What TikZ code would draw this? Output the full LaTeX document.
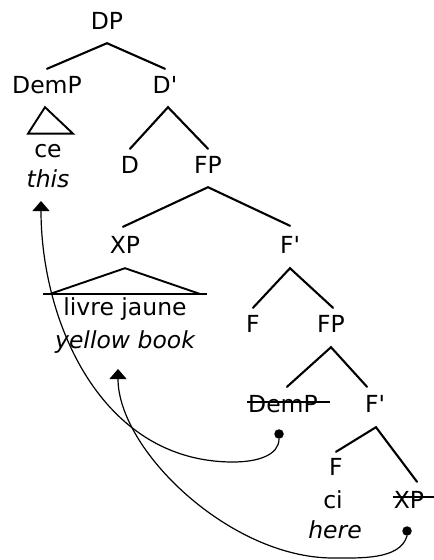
\documentclass[tikz,border=0pt]{standalone}
\usepackage{fontspec}
\setmainfont{DejaVu Sans}
\usetikzlibrary{arrows.meta}
\begin{document}
\begin{tikzpicture}[x=1pt,y=-1pt,
  lab/.style={inner sep=0pt, anchor=base, font=\fontsize{23.5}{28}\selectfont, text height=16pt, text depth=0pt},
  leaf/.style={inner sep=0pt, anchor=base, font=\fontsize{23.5}{28}\selectfont},
  gloss/.style={leaf, font=\fontsize{23.5}{28}\selectfont\itshape},
  branch/.style={line width=2.1pt, line cap=round},
  tri/.style={line width=1.9pt, line join=miter},
  strike/.style={line width=1.3pt},
  move/.style={line width=1.2pt, -{Triangle[width=17pt,length=10pt]}},
  dotn/.style={circle, fill=black, inner sep=0pt, minimum size=9.5pt}]
\useasboundingbox (0,0) rectangle (434,560);
% category nodes
\node[lab] (DP) at (107,29) {DP};
\node[lab] (DemP) at (47,93) {DemP};
\node[lab] (Dbar) at (165,93) {D\textquotesingle};
\node[lab] (D) at (130,173) {D};
\node[lab] (FP1) at (208,173) {FP};
\node[lab] (XP) at (125,253) {XP};
\node[lab] (Fbar1) at (290,253) {F\textquotesingle};
\node[lab] (F1) at (253,332) {F};
\node[lab] (FP2) at (331,332) {FP};
\node[lab] (DemP2) at (283,412) {DemP};
\node[lab] (Fbar2) at (375,412) {F\textquotesingle};
\node[lab] (F2) at (336,475) {F};
\node[lab] (XP2) at (409,508) {XP};
% leaves
\node[leaf] (ce) at (48,157) {ce};
\node[gloss] (this) at (48,187) {this};
\node[leaf] (livre) at (125,315) {livre jaune};
\node[gloss] (yellow) at (125,348) {yellow book};
\node[leaf] (ci) at (333,508) {ci};
\node[gloss] (here) at (335,538) {here};
% dots
\node[dotn] (d1) at (279,434) {};
\node[dotn] (d2) at (407,531) {};
% branches
\draw[branch] ([yshift=8]DemP.north) -- ([yshift=-14]DP.south) -- ([yshift=8]Dbar.north);
\draw[branch] ([yshift=8]D.north) -- ([xshift=3,yshift=-14]Dbar.south) -- ([yshift=8]FP1.north);
\draw[branch] ([xshift=-2,yshift=10]XP.north) -- ([yshift=-14]FP1.south) -- ([yshift=11]Fbar1.north);
\draw[branch] ([yshift=8]F1.north) -- ([yshift=-15]Fbar1.south) -- ([xshift=2,yshift=8]FP2.north);
\draw[branch] ([xshift=4,yshift=9]DemP2.north) -- ([yshift=-15]FP2.south) -- ([xshift=-8,yshift=9]Fbar2.north);
\draw[branch] ([yshift=7]F2.north) -- ([xshift=1,yshift=-15]Fbar2.south) -- ([xshift=8,yshift=10]XP2.north);
% triangles
\draw[tri] ([xshift=-2,yshift=-14]DemP.south) -- ([xshift=-20,yshift=10]ce.north) -- ([xshift=25,yshift=10]ce.north) -- cycle;
\draw[tri] ([yshift=-15]XP.south) -- ([xshift=-75,yshift=3]livre.north) -- ([xshift=75,yshift=3]livre.north) -- cycle;
\draw[tri] ([xshift=-82,yshift=3]livre.north) -- ([xshift=82,yshift=3]livre.north);
% strike-throughs
\draw[strike] ([xshift=-1,yshift=10]DemP2.base west) -- ([xshift=12,yshift=10]DemP2.base east);
\draw[strike] ([xshift=-1,yshift=11]XP2.base west) -- ([xshift=11,yshift=11]XP2.base east);
% movement arrows
\draw[move] (d1.south) .. controls (279,455) and (258,462) .. (233,462)
  .. controls (100,462) and (41,320) .. ([xshift=-7,yshift=-14]this.base);
\draw[move] (d2.south) .. controls (400,560) and (360,558) .. (333,558)
  .. controls (230,558) and (118,450) .. ([xshift=-7,yshift=-21]yellow.base);
\end{tikzpicture}
\end{document}
